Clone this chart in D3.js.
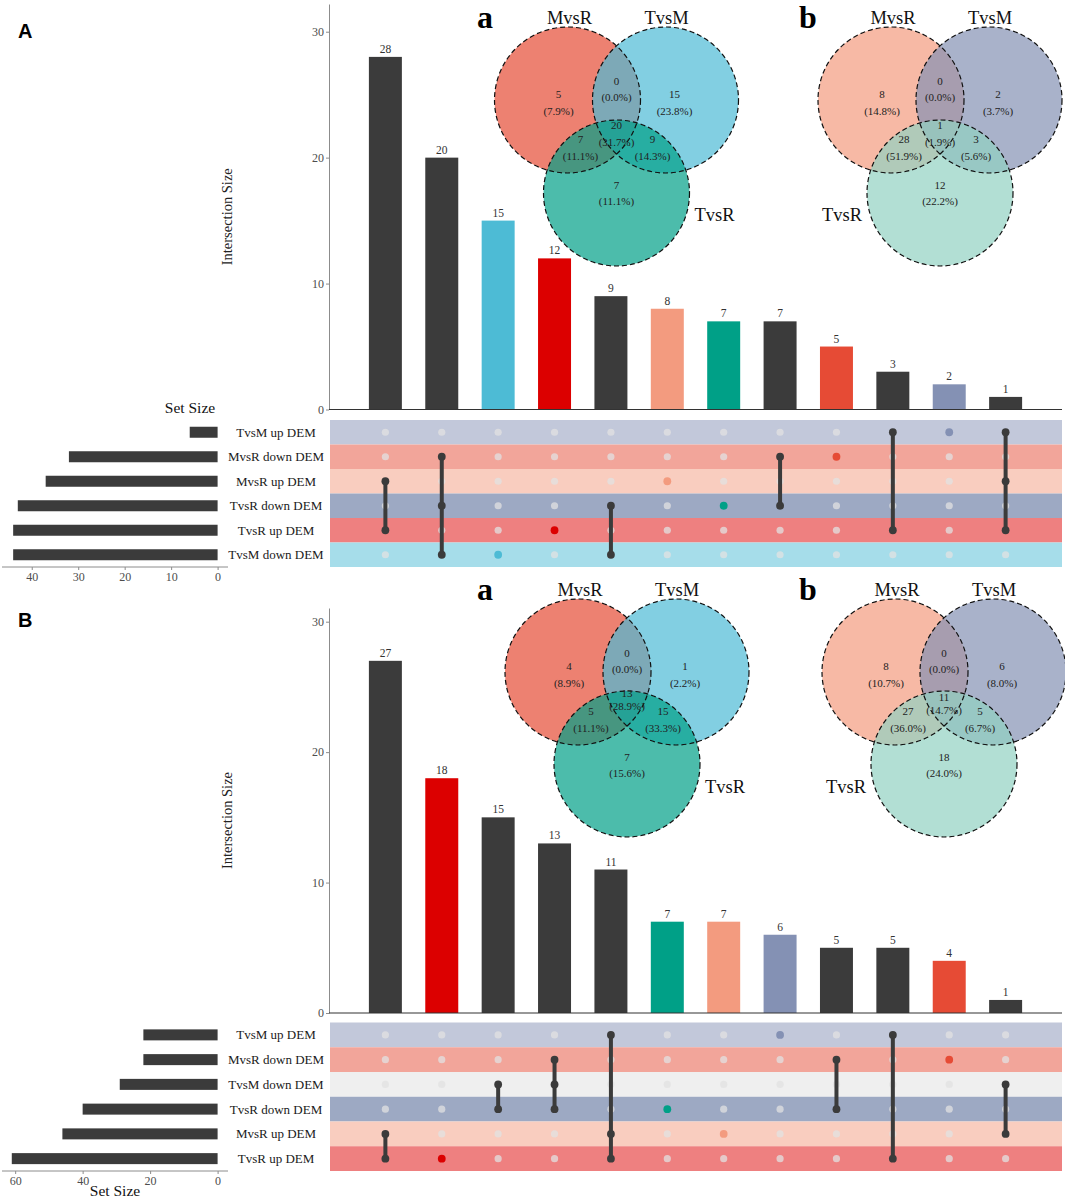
<!DOCTYPE html>
<html>
<head>
<meta charset="utf-8">
<script src="https://cdn.jsdelivr.net/npm/d3@7"></script>
<style>
  html, body { margin: 0; padding: 0; background: #fff; }
  svg { display: block; }
  text { font-family: "Liberation Serif", "Times New Roman", serif; }
</style>
</head>
<body>
<svg id="chart" width="1065" height="1197"></svg>
<script>
// ---------------- DATA ----------------
// Panel A
const setsA = ["TvsM up DEM", "MvsR down DEM", "MvsR up DEM", "TvsR down DEM", "TvsR up DEM", "TvsM down DEM"];
const setSizesA = [6, 32, 37, 43, 44, 44];
const stripeColorsA = ["#c2c8da", "#f2a59a", "#f9cdbf", "#9da9c3", "#ee8080", "#a6ddea"];
const interValuesA = [28, 20, 15, 12, 9, 8, 7, 7, 5, 3, 2, 1];
const interSetsA = [
  ["MvsR up DEM", "TvsR up DEM"],
  ["MvsR down DEM", "TvsR down DEM", "TvsM down DEM"],
  ["TvsM down DEM"],
  ["TvsR up DEM"],
  ["TvsR down DEM", "TvsM down DEM"],
  ["MvsR up DEM"],
  ["TvsR down DEM"],
  ["MvsR down DEM", "TvsR down DEM"],
  ["MvsR down DEM"],
  ["TvsM up DEM", "TvsR up DEM"],
  ["TvsM up DEM"],
  ["TvsM up DEM", "MvsR up DEM", "TvsR up DEM"]
];
const interColorsA = ["#3b3b3b", "#3b3b3b", "#4dbbd5", "#dc0000", "#3b3b3b", "#f39b7f", "#00a087", "#3b3b3b", "#e64b35", "#3b3b3b", "#8491b4", "#3b3b3b"];
const setTicksA = [0, 10, 20, 30, 40];

// Panel B
const setsB = ["TvsM up DEM", "MvsR down DEM", "TvsM down DEM", "TvsR down DEM", "MvsR up DEM", "TvsR up DEM"];
const setSizesB = [22, 22, 29, 40, 46, 61];
const stripeColorsB = ["#c2c8da", "#f2a59a", "#efefef", "#9da9c3", "#f9cdbf", "#ee8080"];
const interValuesB = [27, 18, 15, 13, 11, 7, 7, 6, 5, 5, 4, 1];
const interSetsB = [
  ["MvsR up DEM", "TvsR up DEM"],
  ["TvsR up DEM"],
  ["TvsM down DEM", "TvsR down DEM"],
  ["MvsR down DEM", "TvsM down DEM", "TvsR down DEM"],
  ["TvsM up DEM", "MvsR up DEM", "TvsR up DEM"],
  ["TvsR down DEM"],
  ["MvsR up DEM"],
  ["TvsM up DEM"],
  ["MvsR down DEM", "TvsR down DEM"],
  ["TvsM up DEM", "TvsR up DEM"],
  ["MvsR down DEM"],
  ["TvsM down DEM", "MvsR up DEM"]
];
const interColorsB = ["#3b3b3b", "#dc0000", "#3b3b3b", "#3b3b3b", "#3b3b3b", "#00a087", "#f39b7f", "#8491b4", "#3b3b3b", "#3b3b3b", "#e64b35", "#3b3b3b"];
const setTicksB = [0, 20, 40, 60];

const interTicks = [0, 10, 20, 30];

// Venn diagrams (region order: MvsR only, MvsR∩TvsM, TvsM only, all three, MvsR∩TvsR, TvsM∩TvsR, TvsR only)
const vennNames = ["MvsR", "TvsM", "TvsR"];
const vennCountsAa = [5, 0, 15, 20, 7, 9, 7];
const vennCountsAb = [8, 0, 2, 1, 28, 3, 12];
const vennCountsBa = [4, 0, 1, 13, 5, 15, 7];
const vennCountsBb = [8, 0, 6, 11, 27, 5, 18];
const vennColorsA = ["#e64b35", "#4dbbd5", "#00a087"];
const vennColorsB = ["#f39b7f", "#8491b4", "#91d1c2"];

// ---------------- DRAW ----------------
const svg = d3.select("#chart");
const DARK = "#3b3b3b";
const AXIS_TXT = "#4d4d4d";

function drawUpset(cfg) {
  const g = svg.append("g");
  const n = cfg.values.length;
  const x = d3.scalePoint().domain(d3.range(n)).range([329, 1062]).padding(1);
  const bw = x.step() * 0.585;
  const y = d3.scaleLinear().domain([0, d3.max(cfg.values) * 1.15]).range([cfg.barBottom, cfg.barTop]);

  // y axis
  const ya = g.append("g").attr("transform", "translate(329,0)")
    .call(d3.axisLeft(y).tickValues(interTicks).tickSize(3).tickSizeOuter(0).tickPadding(2));
  ya.select(".domain").attr("stroke", "#8c8c8c").attr("stroke-width", 1);
  ya.selectAll(".tick line").attr("stroke", "#8c8c8c");
  ya.selectAll(".tick text").attr("fill", AXIS_TXT).style("font-size", "12px")
    .style("font-family", "'Liberation Serif', serif");

  // y label
  g.append("text")
    .attr("transform", `translate(227,${(cfg.barTop + cfg.barBottom) / 2 + 10}) rotate(-90)`)
    .attr("text-anchor", "middle").attr("dominant-baseline", "central")
    .style("font-size", "14.5px").attr("fill", "#222").text("Intersection Size");

  // bars
  g.selectAll("rect.bar").data(cfg.values).join("rect")
    .attr("class", "bar")
    .attr("x", (d, i) => x(i) - bw / 2)
    .attr("width", bw)
    .attr("y", d => y(d))
    .attr("height", d => y(0) - y(d))
    .attr("fill", (d, i) => cfg.colors[i]);

  g.selectAll("text.val").data(cfg.values).join("text")
    .attr("class", "val")
    .attr("x", (d, i) => x(i))
    .attr("y", d => y(d) - 4)
    .attr("text-anchor", "middle")
    .style("font-size", "11.5px").attr("fill", "#333")
    .text(d => d);

  // baseline
  g.append("line").attr("x1", 329).attr("x2", 1062).attr("y1", y(0)).attr("y2", y(0))
    .attr("stroke", "#333").attr("stroke-width", 1.2);

  // matrix rows
  const rowY = d3.scaleBand().domain(cfg.sets).range([cfg.matTop, cfg.matBottom]);
  g.selectAll("rect.stripe").data(cfg.sets).join("rect")
    .attr("class", "stripe")
    .attr("x", 330).attr("width", 1062 - 330)
    .attr("y", d => rowY(d)).attr("height", rowY.bandwidth())
    .attr("fill", (d, i) => cfg.stripes[i]);

  const rc = s => rowY(s) + rowY.bandwidth() / 2;

  // inactive dots
  const cells = [];
  cfg.values.forEach((v, i) => cfg.sets.forEach(s => cells.push({ i, s, on: cfg.members[i].includes(s) })));
  g.selectAll("circle.off").data(cells.filter(c => !c.on)).join("circle")
    .attr("class", "off")
    .attr("cx", d => x(d.i)).attr("cy", d => rc(d.s)).attr("r", 3.6)
    .attr("fill", "#e2e2e2").attr("fill-opacity", 0.75);

  // connecting lines
  cfg.members.forEach((m, i) => {
    if (m.length > 1) {
      const ys = m.map(rc);
      g.append("line").attr("x1", x(i)).attr("x2", x(i))
        .attr("y1", d3.min(ys)).attr("y2", d3.max(ys))
        .attr("stroke", DARK).attr("stroke-width", 4);
    }
  });
  g.selectAll("circle.on").data(cells.filter(c => c.on)).join("circle")
    .attr("class", "on")
    .attr("cx", d => x(d.i)).attr("cy", d => rc(d.s)).attr("r", 3.9)
    .attr("fill", d => cfg.members[d.i].length > 1 ? DARK : cfg.colors[d.i]);

  // set labels
  g.selectAll("text.setlab").data(cfg.sets).join("text")
    .attr("class", "setlab")
    .attr("x", 276).attr("y", d => rc(d))
    .attr("text-anchor", "middle").attr("dominant-baseline", "central")
    .style("font-size", "13px").attr("fill", "#1a1a1a")
    .text(d => d);

  // set size bars
  const sx = d3.scaleLinear().domain([0, cfg.setMax]).range([217.6, 2]);
  g.selectAll("rect.setbar").data(cfg.sets).join("rect")
    .attr("class", "setbar")
    .attr("x", (d, i) => sx(cfg.sizes[i]))
    .attr("width", (d, i) => sx(0) - sx(cfg.sizes[i]))
    .attr("y", d => rc(d) - 5.5).attr("height", 11)
    .attr("fill", DARK);

  const sa = g.append("g").attr("transform", `translate(0,${cfg.matBottom})`)
    .call(d3.axisBottom(sx).tickValues(cfg.setTicks).tickSize(3).tickSizeOuter(0).tickPadding(2));
  sa.select(".domain").remove();
  sa.selectAll(".tick line").attr("stroke", "#8c8c8c");
  sa.selectAll(".tick text").attr("fill", AXIS_TXT).style("font-size", "12px")
    .style("font-family", "'Liberation Serif', serif");
  g.append("line").attr("x1", 2).attr("x2", 228).attr("y1", cfg.matBottom).attr("y2", cfg.matBottom)
    .attr("stroke", "#8c8c8c").attr("stroke-width", 1);

  g.append("text").attr("x", cfg.setTitle[0]).attr("y", cfg.setTitle[1])
    .attr("text-anchor", "middle").attr("dominant-baseline", "central")
    .style("font-size", "15.5px").attr("fill", "#111").text("Set Size");

  // panel letter
  g.append("text").attr("x", 18).attr("y", cfg.letterY)
    .style("font-family", "'Liberation Sans', Arial, sans-serif")
    .style("font-weight", "bold").style("font-size", "20px").attr("fill", "#000")
    .text(cfg.letter);
}

const regionOffsets = [[-58, -6], [0, -19.5], [58, -6], null, [-36, 39], [36, 39], [0, 84.5]];

function drawVenn(v) {
  const g = svg.append("g");
  const r = 73;
  const centers = [[v.cx - 49, v.cy], [v.cx + 49, v.cy], [v.cx, v.cy + v.dy]];
  g.selectAll("circle.fill").data(centers).join("circle")
    .attr("cx", d => d[0]).attr("cy", d => d[1]).attr("r", r)
    .attr("fill", (d, i) => v.colors[i]).attr("fill-opacity", 0.7);
  g.selectAll("circle.edge").data(centers).join("circle")
    .attr("cx", d => d[0]).attr("cy", d => d[1]).attr("r", r)
    .attr("fill", "none").attr("stroke", "#111").attr("stroke-width", 1.2)
    .attr("stroke-dasharray", "5,3");

  const total = d3.sum(v.counts);
  const fmt = d3.format(".1f");
  v.counts.forEach((c, k) => {
    let nx, ny, py;
    if (k === 3) { nx = v.cx; ny = v.cy + v.triple[0]; py = v.cy + v.triple[1]; }
    else { nx = v.cx + regionOffsets[k][0]; ny = v.cy + regionOffsets[k][1]; py = ny + 16.5; }
    g.append("text").attr("x", nx).attr("y", ny).attr("text-anchor", "middle")
      .attr("dominant-baseline", "central").style("font-size", "11px").attr("fill", "#222").text(c);
    g.append("text").attr("x", nx).attr("y", py).attr("text-anchor", "middle")
      .attr("dominant-baseline", "central").style("font-size", "11px").attr("fill", "#222")
      .text("(" + fmt(c / total * 100) + "%)");
  });

  // set names
  g.append("text").attr("x", v.cx - 47).attr("y", v.cy - 82).attr("text-anchor", "middle")
    .attr("dominant-baseline", "central").style("font-size", "18.5px").attr("fill", "#111").text(vennNames[0]);
  g.append("text").attr("x", v.cx + 50).attr("y", v.cy - 82).attr("text-anchor", "middle")
    .attr("dominant-baseline", "central").style("font-size", "18.5px").attr("fill", "#111").text(vennNames[1]);
  g.append("text").attr("x", v.cx + v.rSide * 98).attr("y", v.cy + 115).attr("text-anchor", "middle")
    .attr("dominant-baseline", "central").style("font-size", "18.5px").attr("fill", "#111").text(vennNames[2]);

  // letter
  g.append("text").attr("x", v.letterX).attr("y", v.cy - 83).attr("text-anchor", "middle")
    .attr("dominant-baseline", "central").style("font-size", "32px").style("font-weight", "bold")
    .attr("fill", "#000").text(v.letter);
}

drawUpset({
  sets: setsA, sizes: setSizesA, stripes: stripeColorsA, values: interValuesA, members: interSetsA,
  colors: interColorsA, setTicks: setTicksA, setMax: 46.4,
  barTop: 4, barBottom: 409.5, matTop: 420, matBottom: 567,
  setTitle: [190, 407], letter: "A", letterY: 38
});
drawUpset({
  sets: setsB, sizes: setSizesB, stripes: stripeColorsB, values: interValuesB, members: interSetsB,
  colors: interColorsB, setTicks: setTicksB, setMax: 63.9,
  barTop: 608, barBottom: 1013, matTop: 1022.5, matBottom: 1171,
  setTitle: [115, 1190], letter: "B", letterY: 627
});

drawVenn({ cx: 616.5, cy: 100, dy: 93, counts: vennCountsAa, colors: vennColorsA, triple: [25, 41.5], rSide: 1, letter: "a", letterX: 485 });
drawVenn({ cx: 940, cy: 100, dy: 93, counts: vennCountsAb, colors: vennColorsB, triple: [25, 41.5], rSide: -1, letter: "b", letterX: 808 });
drawVenn({ cx: 627, cy: 672, dy: 92, counts: vennCountsBa, colors: vennColorsA, triple: [20.5, 33.5], rSide: 1, letter: "a", letterX: 485 });
drawVenn({ cx: 944, cy: 672, dy: 92, counts: vennCountsBb, colors: vennColorsB, triple: [24.5, 37.5], rSide: -1, letter: "b", letterX: 808 });
</script>
</body>
</html>
